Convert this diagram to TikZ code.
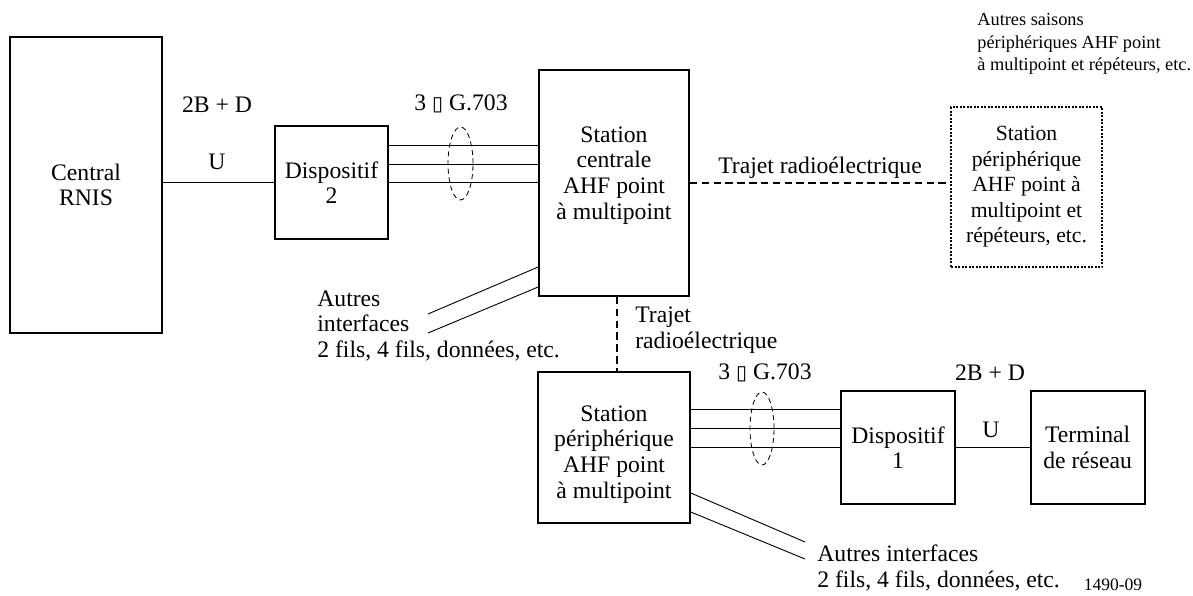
\documentclass[tikz,border=0pt]{standalone}
\usepackage{fontspec}
\setmainfont{Liberation Serif}
\newfontfamily\glyphfont{DejaVu Sans}
\usepackage{tikz}
\usetikzlibrary{shapes,positioning,calc}
\tikzstyle{block} = [draw,rectangle,line width=1pt,inner sep=0pt,align=center]
\tikzstyle{wire} = [line width=0.55pt]
\tikzstyle{radio} = [line width=1pt,dash pattern=on 4.5pt off 2.6pt]
\tikzstyle{bundle} = [draw,ellipse,line width=0.5pt,dash pattern=on 3pt off 2.2pt,inner sep=0pt]
\tikzstyle{note} = [inner sep=0pt,align=left]
\newcommand{\multx}{{\glyphfont\fontsize{12}{12}\selectfont ▯}}

\begin{document}
\begin{tikzpicture}[x=0.6pt,y=-0.6pt,font=\fontsize{14.2}{15.4}\selectfont]
        \useasboundingbox (0,0) rectangle (1193,595);
            % Define nodes
        \node[block,
        minimum width=91.2pt,
        minimum height=177.6pt] (rnis) at (86,185) {Central\\RNIS};

        \node[block,
        minimum width=67.8pt,
        minimum height=67.8pt] (disp2) at (331.5,182.5) {Dispositif\\2};

        \node[block,
        minimum width=90pt,
        minimum height=135.6pt,
        label={[align=center,yshift=4.5pt]center:Station\\centrale\\AHF point\\à multipoint}] (central) at (614,183) {};

        \node[block,
        line width=1.2pt,
        dash pattern=on 1.2pt off 0.9pt,
        font=\fontsize{13}{15.3}\selectfont,
        minimum width=90.6pt,
        minimum height=96pt] (remote) at (1026.5,187) {Station\\périphérique\\AHF point à\\multipoint et\\répéteurs, etc.};

        \node[block,
        minimum width=91.2pt,
        minimum height=90.6pt,
        label={[align=center,yshift=-4.2pt]center:Station\\périphérique\\AHF point\\à multipoint}] (peri) at (614,447.5) {};

        \node[block,
        minimum width=68.4pt,
        minimum height=67.8pt] (disp1) at (898,447.5) {Dispositif\\1};

        \node[block,
        right=44.4pt of disp1,
        minimum width=68.4pt,
        minimum height=67.8pt] (term) {Terminal\\de réseau};

        % Bundles
        \node[bundle,minimum width=15pt,minimum height=43.8pt] (bund2) at (460.5,163.5) {};
        \node[bundle,minimum width=14.4pt,minimum height=43.8pt] (bund1) at (762,428.5) {};

        % Labels
        \node[note] (rate2) at (217,104.5) {2B + D};
        \node[note] (u2) at (217,161.5) {U};
        \node[note] (g2) at (461,104) {3 \multx{} G.703};
        \node[note] (radioh) at (820,167.5) {Trajet radioélectrique};
        \node[note,anchor=west,font=\fontsize{11}{13.3}\selectfont] (others) at (977,44) {Autres saisons\\périphériques AHF point\\à multipoint et répéteurs, etc.};
        \node[note,anchor=west] (ifc2) at (317,326) {Autres\\interfaces\\2 fils, 4 fils, données, etc.};
        \node[note,anchor=west] (radiov) at (635,330) {Trajet\\radioélectrique};
        \node[note] (g1) at (765,373) {3 \multx{} G.703};
        \node[note] (rate1) at (990,373) {2B + D};
        \node[note] (u1) at (991,430) {U};
        \node[note,anchor=west] (ifc1) at (817,568) {Autres interfaces\\2 fils, 4 fils, données, etc.};
        \node[note,font=\fontsize{10.5}{10.5}\selectfont] (fig) at (1113,585) {1490-09};

        % Connectors
        \draw [wire] (disp2.west) -- (disp2.west -| rnis.east);
        \foreach \dy/\n in {0/a,-18.5/b,-37/c} {
          \coordinate (up\n) at ($(disp2.east)+(0,\dy)$);
          \draw [wire] (up\n) -- (up\n -| central.west);
        }
        \foreach \dy/\n in {0/a,-19.5/b,-38.5/c} {
          \coordinate (lo\n) at ($(peri.east)+(0,\dy)$);
          \draw [wire] (lo\n) -- (lo\n -| disp1.west);
        }
        \draw [wire] (disp1.east) -- (term.west);

        \draw [radio] (central.east) -- (central.east -| remote.west);
        \coordinate (vtop) at ($(central.south)+(3,0)$);
        \draw [radio] (vtop) -- (vtop |- peri.north);

        % Other interfaces
        \coordinate (ia) at ($(central.west)+(0,84)$);
        \coordinate (ib) at ($(central.west)+(0,104)$);
        \coordinate (ea) at (428,314);
        \coordinate (eb) at (428,333);
        \draw [wire] (ia) -- (ea);
        \draw [wire] (ib) -- (eb);
        \coordinate (ic) at ($(peri.east)+(0,45.5)$);
        \coordinate (id) at ($(peri.east)+(0,64.5)$);
        \coordinate (ec) at (805,542);
        \coordinate (ed) at (805,559);
        \draw [wire] (ic) -- (ec);
        \draw [wire] (id) -- (ed);

        \end{tikzpicture}
\end{document}
